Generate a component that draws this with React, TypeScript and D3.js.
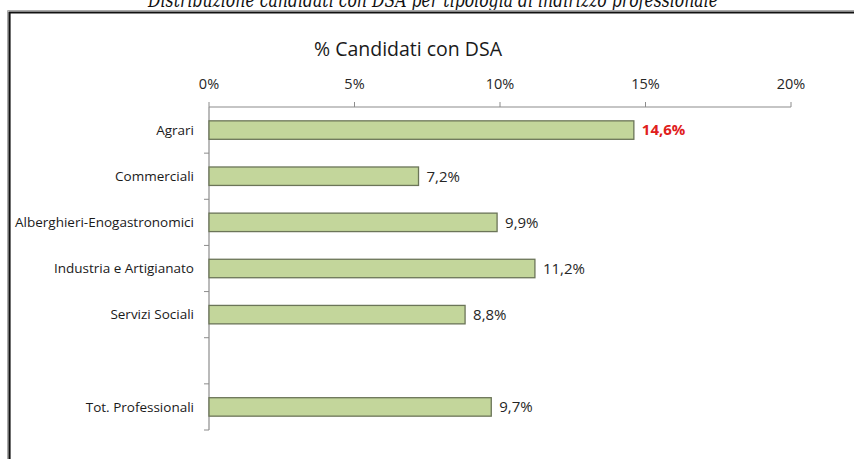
import React from "react";
import * as d3 from "d3";

const caption = "Distribuzione candidati con DSA per tipologia di indirizzo professionale";
const title = "% Candidati con DSA";
const categories = ["Agrari", "Commerciali", "Alberghieri-Enogastronomici", "Industria e Artigianato", "Servizi Sociali", "", "Tot. Professionali"];
const values: (number | null)[] = [14.6, 7.2, 9.9, 11.2, 8.8, null, 9.7];
const valueLabels = ["14,6%", "7,2%", "9,9%", "11,2%", "8,8%", "", "9,7%"];
const highlight = [true, false, false, false, false, false, false];
const xTicks = [0, 5, 10, 15, 20];

const W = 854;
const H = 459;
const FONT = "'Open Sans', 'Noto Sans', sans-serif";

export default function App() {
  const x = d3.scaleLinear().domain([0, 20]).range([209, 791]);
  const y = d3.scaleBand<string>()
    .domain(categories.map((c, i) => String(i)))
    .range([107, 430])
    .paddingInner(0.6)
    .paddingOuter(0.3);
  const step = y.step();
  const axisColor = "#8c8c8c";
  const boundaries = d3.range(categories.length + 1).map((i) => 107 + i * step);

  return (
    <svg width={W} height={H} style={{ position: "absolute", left: 0, top: 0, background: "#fff" }}>
      <rect x={0} y={0} width={W} height={H} fill="#fff" />
      <text x={433} y={7} textAnchor="middle" fontFamily="'DejaVu Serif', serif" fontStyle="italic" fontSize={20} textLength={570} lengthAdjust="spacingAndGlyphs" fill="#111">{caption}</text>
      <path d={`M7.5,${H + 5}V10.5H${W + 5}`} fill="none" stroke="#aaa" strokeWidth={1} />
      <path d={`M9.5,${H + 5}V12.5H${W + 5}`} fill="none" stroke="#111" strokeWidth={2.2} />

      <text x={408} y={56} textAnchor="middle" fontFamily={FONT} fontSize={19.5} fill="#1a1a1a">{title}</text>

      {xTicks.map((t) => (
        <g key={t}>
          <text x={x(t)} y={89} textAnchor="middle" fontFamily={FONT} fontSize={14.5} fill="#262626">{`${t}%`}</text>
          <line x1={x(t)} x2={x(t)} y1={102} y2={107} stroke={axisColor} strokeWidth={1} />
        </g>
      ))}
      <line x1={x(0)} x2={x(20)} y1={107} y2={107} stroke={axisColor} strokeWidth={1.2} />
      <line x1={x(0)} x2={x(0)} y1={107} y2={430} stroke={axisColor} strokeWidth={1.2} />
      {boundaries.slice(1).map((b, i) => (
        <line key={i} x1={x(0) - 5} x2={x(0)} y1={b} y2={b} stroke={axisColor} strokeWidth={1} />
      ))}

      {categories.map((c, i) => {
        const v = values[i];
        const yc = (y(String(i)) as number) + y.bandwidth() / 2;
        return (
          <g key={i}>
            {c && (
              <text x={194} y={yc} dy="0.35em" textAnchor="end" fontFamily={FONT} fontSize={13.5} fill="#1a1a1a">{c}</text>
            )}
            {v !== null && (
              <>
                <rect x={x(0)} y={y(String(i))} width={x(v) - x(0)} height={y.bandwidth()} fill="#c3d69b" stroke="#6b7558" strokeWidth={1.3} />
                <text x={x(v) + 8} y={yc} dy="0.36em" fontFamily={FONT} fontSize={15} fontWeight={highlight[i] ? 700 : 400} fill={highlight[i] ? "#e0201c" : "#262626"}>{valueLabels[i]}</text>
              </>
            )}
          </g>
        );
      })}
    </svg>
  );
}
